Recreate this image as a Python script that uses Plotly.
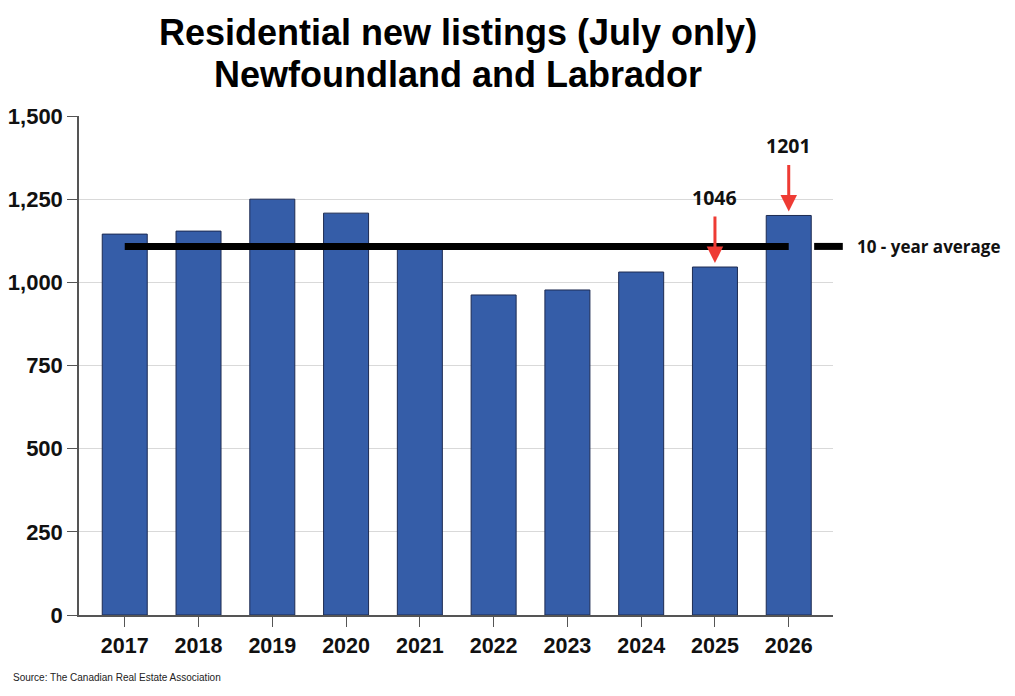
import plotly.graph_objects as go

YEARS = ["2017", "2018", "2019", "2020", "2021", "2022", "2023", "2024", "2025", "2026"]
LISTINGS = [1145, 1154, 1250, 1208, 1105, 962, 977, 1031, 1046, 1201]
AVERAGE = 1108
CALLOUTS = {"2025": 1046, "2026": 1201}
TITLE = ["Residential new listings (July only)", "Newfoundland and Labrador"]
SOURCE = "Source: The Canadian Real Estate Association"

BAR = "#355da8"
EDGE = "#1d2b52"
RED = "#ee3b34"
ARIAL = "Liberation Sans, Arial, sans-serif"
PLEX = "Open Sans, sans-serif"

fig = go.Figure()
fig.add_trace(go.Bar(
    x=YEARS, y=LISTINGS, marker=dict(color=BAR, line=dict(color=EDGE, width=1)),
    showlegend=False, hoverinfo="x+y"))
fig.add_trace(go.Scatter(
    x=[YEARS[0], YEARS[-1]], y=[AVERAGE, AVERAGE], mode="lines",
    line=dict(color="black", width=7), showlegend=False, hoverinfo="skip"))

# callouts: red arrow pointing down at the bar, value label above it
for yr, v in CALLOUTS.items():
    i = YEARS.index(yr)  # category axis: annotations take the index
    fig.add_annotation(x=i, y=v, text="", showarrow=True, arrowhead=2,
                       arrowsize=1.1, arrowwidth=3, arrowcolor=RED,
                       ax=0, ay=-48, yshift=4)
    fig.add_annotation(x=i, y=v, text=f"<b>{v}</b>", showarrow=False,
                       yshift=70, yanchor="middle",
                       font=dict(family=PLEX, size=19.5, color="#111"))

# legend key for the average line
fig.add_shape(type="line", xref="paper", yref="y", x0=0.975, x1=1.013,
              y0=AVERAGE, y1=AVERAGE, line=dict(color="black", width=7))
fig.add_annotation(xref="paper", yref="y", x=1.029, y=AVERAGE, xanchor="left",
                   text="<b>10 - year average</b>", showarrow=False,
                   font=dict(family=PLEX, size=17, color="#111"))

# two-line title, placed as annotations for exact vertical placement
for txt, yy in zip(TITLE, [1.168, 1.084]):
    fig.add_annotation(xref="paper", yref="paper", x=0.503, y=yy, text=f"<b>{txt}</b>",
                       showarrow=False, yanchor="middle",
                       font=dict(family=ARIAL, size=36, color="#000"))

fig.add_annotation(xref="paper", yref="paper", x=-0.090, y=-0.126, xanchor="left",
                   yanchor="middle", showarrow=False, text=SOURCE,
                   font=dict(family=ARIAL, size=10, color="#222"))

# page body has an 8px margin, so the figure is 8px smaller and margins shifted
fig.update_layout(
    width=1007, height=688,
    margin=dict(l=71, r=182, t=108, b=81),
    paper_bgcolor="white", plot_bgcolor="white",
    bargap=0.39,
)
fig.update_xaxes(
    type="category", range=[-0.62, 9.6], showline=True, linecolor="#555",
    linewidth=1.5, ticks="outside", ticklen=10, tickcolor="#555",
    tickfont=dict(family=ARIAL, size=21.5, color="#111"),
    tickprefix="<b>", ticksuffix="</b>", showgrid=False, automargin=False)
fig.update_yaxes(
    range=[0, 1500], tickvals=[0, 250, 500, 750, 1000, 1250, 1500],
    ticktext=["<b>0</b>", "<b>250</b>", "<b>500</b>", "<b>750</b>", "<b>1,000</b>",
              "<b>1,250</b>", "<b>1,500</b>"],
    showline=True, linecolor="#555", linewidth=1.5, ticks="outside", ticklen=10,
    tickcolor="#555", tickfont=dict(family=ARIAL, size=22, color="#111"),
    gridcolor="#d9d9d9", zeroline=False, automargin=False)

fig.write_html("out.html")
